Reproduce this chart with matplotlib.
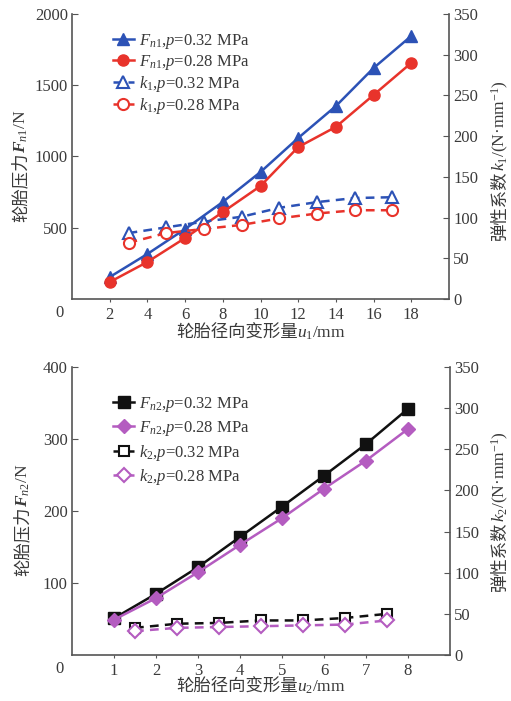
import matplotlib
matplotlib.use("Agg")
import matplotlib.pyplot as plt

plt.rcParams['font.family'] = ['Liberation Serif', 'Noto Sans CJK SC']
plt.rcParams['mathtext.fontset'] = 'custom'
plt.rcParams['mathtext.rm'] = 'Liberation Serif'
plt.rcParams['mathtext.it'] = 'Liberation Serif:italic'
plt.rcParams['mathtext.bf'] = 'Liberation Serif:bold:italic'

# ---- data: top panel ----
u1_F = [2, 4, 6, 8, 10, 12, 14, 16, 18]
F1_032 = [154, 316, 491, 681, 891, 1130, 1354, 1621, 1846]
F1_028 = [119, 260, 428, 610, 793, 1066, 1208, 1432, 1657]
u1_k = [3, 5, 7, 9, 11, 13, 15, 17]
k1_032 = [81, 88, 95, 101, 112, 119, 124, 125]
k1_028 = [69, 81, 86, 91, 99, 105, 109, 109]

# ---- data: bottom panel ----
u2_F = [1, 2, 3, 4, 5, 6, 7, 8]
F2_032 = [51, 85, 122, 164, 206, 249, 293, 342]
F2_028 = [49, 79, 115, 153, 190, 231, 270, 314]
u2_k = [1.5, 2.5, 3.5, 4.5, 5.5, 6.5, 7.5]
k2_032 = [33, 38, 39, 42, 42, 45, 50]
k2_028 = [29, 33, 34, 35, 36, 37, 42]

top_xticks = [2, 4, 6, 8, 10, 12, 14, 16, 18]
top_yticks = [500, 1000, 1500, 2000]
bot_xticks = [1, 2, 3, 4, 5, 6, 7, 8]
bot_yticks = [100, 200, 300, 400]
right_ticks = [0, 50, 100, 150, 200, 250, 300, 350]

BLUE = '#2c52b6'
RED = '#e8332b'
BLACK = '#111111'
PURPLE = '#b45cc0'
TXT = '#3a3a3a'
SPINE = '#555555'
FS = 12
LFS = 12.5
CJK = ['Noto Sans CJK SC']

fig = plt.figure(figsize=(5.11, 7.01), dpi=100)
W, H = 511, 701
renderer = fig.canvas.get_renderer()


def make_axes(x0, x1, ytop, ybot):
    return fig.add_axes([x0 / W, 1 - ybot / H, (x1 - x0) / W, (ybot - ytop) / H])


def piece_width(s, kw):
    t = fig.text(0, 0, s, **kw)
    w = t.get_window_extent(renderer).width
    t.remove()
    return w


def label(pieces, cx, cy, rotation=0):
    """pieces: list of (string, kwargs). cx, cy: image pixel coords (y from top).
    For rotation 0: cx is centre x, cy is baseline y.
    For rotation 90: cx is baseline x, cy is centre y."""
    widths = [piece_width(s, kw) for s, kw in pieces]
    total = sum(widths)
    pos = -total / 2
    for (s, kw), w in zip(pieces, widths):
        if rotation == 0:
            x, y = cx + pos, H - cy
        else:
            x, y = cx, (H - cy) + pos
        fig.text(x / W, y / H, s, rotation=rotation, rotation_mode='anchor',
                 ha='left', va='baseline', color=TXT, **kw)
        pos += w


def style(ax, ax2):
    for a in (ax, ax2):
        a.spines['top'].set_visible(False)
        for s in a.spines.values():
            s.set_color(SPINE)
            s.set_linewidth(1.2)
        a.tick_params(colors=SPINE, labelcolor=TXT, labelsize=FS)
    ax.tick_params(axis='y', direction='in', length=4, pad=3)
    ax.tick_params(axis='x', direction='out', length=2, pad=4)
    ax2.tick_params(axis='y', direction='in', length=4, pad=3)
    ax.spines['right'].set_visible(False)
    ax2.spines['left'].set_visible(False)
    ax2.spines['bottom'].set_visible(False)


dash = (0, (3.5, 2.5))
cjk_kw = dict(fontsize=LFS, family=CJK)
ser_kw = dict(fontsize=LFS, family=['Liberation Serif'])

# ---------- top ----------
ax = make_axes(72, 449, 14, 299)
ax2 = ax.twinx()
style(ax, ax2)
ax.set_xlim(0, 20)
ax.set_ylim(0, 2000)
ax2.set_ylim(0, 350)
ax.set_xticks(top_xticks)
ax.set_yticks(top_yticks)
ax2.set_yticks(right_ticks)
l1, = ax.plot(u1_F, F1_032, color=BLUE, lw=1.8, marker='^', ms=9)
l2, = ax.plot(u1_F, F1_028, color=RED, lw=1.8, marker='o', ms=8)
l3, = ax2.plot(u1_k, k1_032, color=BLUE, lw=1.8, ls=dash, marker='^', ms=8.5,
               mfc='white', mew=1.5)
l4, = ax2.plot(u1_k, k1_028, color=RED, lw=1.8, ls=dash, marker='o', ms=8,
               mfc='white', mew=1.5)
ax.text(-0.45, -45, '0', ha='right', va='top', fontsize=FS, color=TXT)
leg = ax.legend([l1, l2, l3, l4],
                ['$F_{n1}$,$p$=0.32 MPa', '$F_{n1}$,$p$=0.28 MPa',
                 '$k_1$,$p$=0.32 MPa', '$k_1$,$p$=0.28 MPa'],
                loc='upper left', bbox_to_anchor=(0.09, 0.96), frameon=False,
                fontsize=FS, handlelength=1.3, handletextpad=0.3,
                labelspacing=0.12, borderaxespad=0)
for t in leg.get_texts():
    t.set_color(TXT)

label([('轮胎径向变形量', cjk_kw), ('$u_1$/mm', ser_kw)], 261, 338)
label([('轮胎压力', cjk_kw), ('$\\mathbf{F}_{n1}$/N', ser_kw)], 26, 166, rotation=90)
label([('弹性系数', cjk_kw), ('$k_1$/(N·mm$^{-1}$)', ser_kw)], 505, 160, rotation=90)

# ---------- bottom ----------
bx = make_axes(72, 450, 367, 655)
bx2 = bx.twinx()
style(bx, bx2)
bx.set_xlim(0, 9)
bx.set_ylim(0, 400)
bx2.set_ylim(0, 350)
bx.set_xticks(bot_xticks)
bx.set_yticks(bot_yticks)
bx2.set_yticks(right_ticks)
m1, = bx.plot(u2_F, F2_032, color=BLACK, lw=1.8, marker='s', ms=8)
m2, = bx.plot(u2_F, F2_028, color=PURPLE, lw=1.8, marker='D', ms=7.5)
m3, = bx2.plot(u2_k, k2_032, color=BLACK, lw=1.8, ls=dash, marker='s', ms=7.5,
               mfc='white', mew=1.5)
m4, = bx2.plot(u2_k, k2_028, color=PURPLE, lw=1.8, ls=dash, marker='D', ms=7,
               mfc='white', mew=1.5)
bx.text(-0.2, -9, '0', ha='right', va='top', fontsize=FS, color=TXT)
leg2 = bx.legend([m1, m2, m3, m4],
                 ['$F_{n2}$,$p$=0.32 MPa', '$F_{n2}$,$p$=0.28 MPa',
                  '$k_2$,$p$=0.32 MPa', '$k_2$,$p$=0.28 MPa'],
                 loc='upper left', bbox_to_anchor=(0.09, 0.925), frameon=False,
                 fontsize=FS, handlelength=1.3, handletextpad=0.3,
                 labelspacing=0.28, borderaxespad=0)
for t in leg2.get_texts():
    t.set_color(TXT)

label([('轮胎径向变形量', cjk_kw), ('$u_2$/mm', ser_kw)], 261, 692)
label([('轮胎压力', cjk_kw), ('$\\mathbf{F}_{n2}$/N', ser_kw)], 28, 520, rotation=90)
label([('弹性系数', cjk_kw), ('$k_2$/(N·mm$^{-1}$)', ser_kw)], 505, 511, rotation=90)

fig.savefig('out.png', dpi=100)
